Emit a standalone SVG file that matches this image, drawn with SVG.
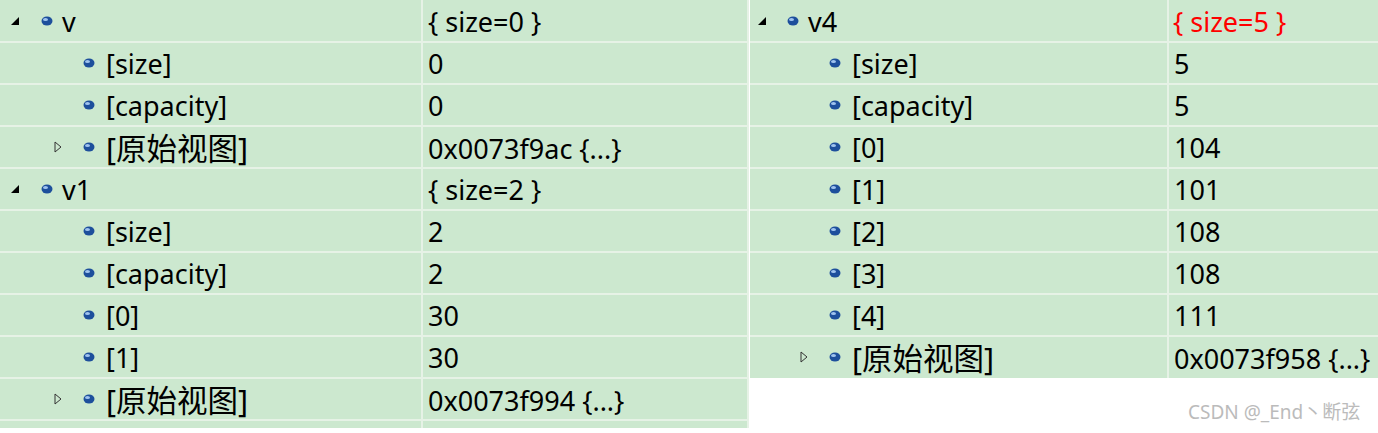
<svg xmlns="http://www.w3.org/2000/svg" width="1378" height="433" viewBox="0 0 1378 433">
<defs>
<style>
text{font-family:"Noto Sans","Noto Sans CJK SC",sans-serif;font-size:27px;fill:#000}
.c{font-size:30.5px}
.g{fill:#cce8cf}
.ln{stroke:#e6f2e6;stroke-width:2}
.wm{font-size:19px;fill:#bbbbbb}
</style>
<g id="ic"><ellipse cx="0" cy="0" rx="5.5" ry="4.5" fill="#1d4f9c"/><ellipse cx="-1.5" cy="-1.5" rx="2.5" ry="1.6" fill="#9fc3ef"/></g>
<path id="tf" d="M-4 4 L4 4 L4 -4 Z" fill="#000"/>
<path id="to" d="M-3 -5 L3 0 L-3 5 Z" fill="none" stroke="#333" stroke-width="1"/>
</defs>
<rect width="1378" height="433" fill="#fff"/>
<g id="left">
<rect class="g" x="0" y="0" width="748" height="428"/>
<g class="ln"><line x1="0" y1="42" x2="748" y2="42"/><line x1="0" y1="84" x2="748" y2="84"/><line x1="0" y1="126" x2="748" y2="126"/><line x1="0" y1="168" x2="748" y2="168"/><line x1="0" y1="210" x2="748" y2="210"/><line x1="0" y1="252" x2="748" y2="252"/><line x1="0" y1="294" x2="748" y2="294"/><line x1="0" y1="336" x2="748" y2="336"/><line x1="0" y1="378" x2="748" y2="378"/><line x1="0" y1="420" x2="748" y2="420"/><line x1="422" y1="0" x2="422" y2="428"/><line x1="748" y1="0" x2="748" y2="428"/></g>
<use href="#tf" x="15" y="21"/><use href="#ic" x="47" y="21"/><text x="62" y="32">v</text><text x="428" y="32">{ size=0 }</text>
<use href="#ic" x="89" y="63"/><text x="106" y="74">[size]</text><text x="428" y="74">0</text>
<use href="#ic" x="89" y="105"/><text x="106" y="116">[capacity]</text><text x="428" y="116">0</text>
<use href="#to" x="58" y="147"/><use href="#ic" x="89" y="147"/><text class="c" x="106" y="160">[原始视图]</text><text x="428" y="159">0x0073f9ac {...}</text>
<use href="#tf" x="15" y="189"/><use href="#ic" x="47" y="189"/><text x="62" y="200">v1</text><text x="428" y="200">{ size=2 }</text>
<use href="#ic" x="89" y="231"/><text x="106" y="242">[size]</text><text x="428" y="242">2</text>
<use href="#ic" x="89" y="273"/><text x="106" y="284">[capacity]</text><text x="428" y="284">2</text>
<use href="#ic" x="89" y="315"/><text x="106" y="326">[0]</text><text x="428" y="326">30</text>
<use href="#ic" x="89" y="357"/><text x="106" y="368">[1]</text><text x="428" y="368">30</text>
<use href="#to" x="58" y="399"/><use href="#ic" x="89" y="399"/><text class="c" x="106" y="412">[原始视图]</text><text x="428" y="411">0x0073f994 {...}</text>
</g>
<g id="right">
<rect class="g" x="750" y="0" width="628" height="378"/>
<g class="ln"><line x1="750" y1="42" x2="1378" y2="42"/><line x1="750" y1="84" x2="1378" y2="84"/><line x1="750" y1="126" x2="1378" y2="126"/><line x1="750" y1="168" x2="1378" y2="168"/><line x1="750" y1="210" x2="1378" y2="210"/><line x1="750" y1="252" x2="1378" y2="252"/><line x1="750" y1="294" x2="1378" y2="294"/><line x1="750" y1="336" x2="1378" y2="336"/><line x1="1168" y1="0" x2="1168" y2="378"/></g>
<use href="#tf" x="762" y="21"/><use href="#ic" x="793" y="21"/><text x="808" y="32">v4</text><text x="1173" y="32" style="fill:#f00">{ size=5 }</text>
<use href="#ic" x="835" y="63"/><text x="852" y="74">[size]</text><text x="1174" y="74">5</text>
<use href="#ic" x="835" y="105"/><text x="852" y="116">[capacity]</text><text x="1174" y="116">5</text>
<use href="#ic" x="835" y="147"/><text x="852" y="158">[0]</text><text x="1174" y="158">104</text>
<use href="#ic" x="835" y="189"/><text x="852" y="200">[1]</text><text x="1174" y="200">101</text>
<use href="#ic" x="835" y="231"/><text x="852" y="242">[2]</text><text x="1174" y="242">108</text>
<use href="#ic" x="835" y="273"/><text x="852" y="284">[3]</text><text x="1174" y="284">108</text>
<use href="#ic" x="835" y="315"/><text x="852" y="326">[4]</text><text x="1174" y="326">111</text>
<use href="#to" x="804" y="357"/><use href="#ic" x="835" y="357"/><text class="c" x="852" y="370">[原始视图]</text><text x="1174" y="369">0x0073f958 {...}</text>
</g>
<text class="wm" x="1188" y="419">CSDN @_End丶断弦</text>
</svg>
